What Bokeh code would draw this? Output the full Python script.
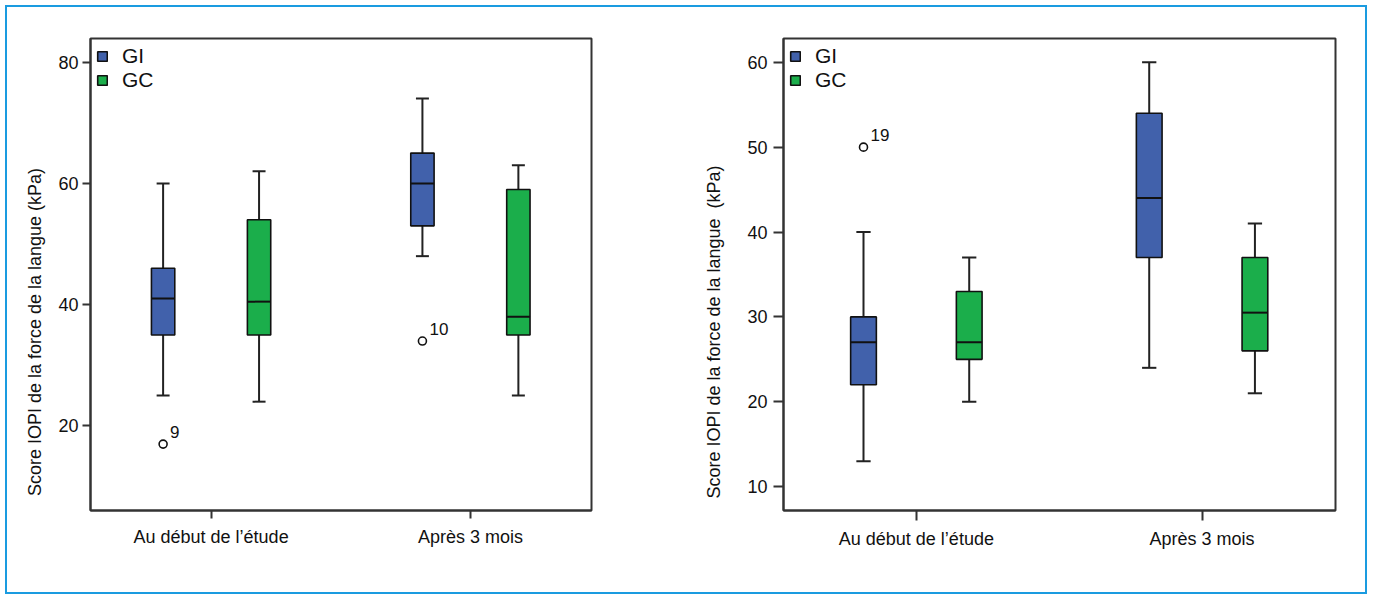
from bokeh.plotting import figure
from bokeh.layouts import row
from bokeh.models import ColumnDataSource, FixedTicker, Legend, LegendItem, Range1d
from bokeh.embed import file_html
from bokeh.resources import INLINE

# ---------------- data ----------------
categories = ["Au début de l’étude", "Après 3 mois"]
groups = ["GI", "GC"]
group_colors = ["#4161ab", "#1bae4b"]

# Left panel (box-plot statistics, one value per category)
left_gi_lower = [25, 48]
left_gi_q1 = [35, 53]
left_gi_median = [41, 60]
left_gi_q3 = [46, 65]
left_gi_upper = [60, 74]

left_gc_lower = [24, 25]
left_gc_q1 = [35, 35]
left_gc_median = [40.5, 38]
left_gc_q3 = [54, 59]
left_gc_upper = [62, 63]

left_out_cat = [0, 1]
left_out_group = ["GI", "GI"]
left_out_value = [17, 34]
left_out_label = ["9", "10"]

left_y_ticks = [20, 40, 60, 80]

# Right panel
right_gi_lower = [13, 24]
right_gi_q1 = [22, 37]
right_gi_median = [27, 44]
right_gi_q3 = [30, 54]
right_gi_upper = [40, 60]

right_gc_lower = [20, 21]
right_gc_q1 = [25, 26]
right_gc_median = [27, 30.5]
right_gc_q3 = [33, 37]
right_gc_upper = [37, 41]

right_out_cat = [0]
right_out_group = ["GI"]
right_out_value = [50]
right_out_label = ["19"]

right_y_ticks = [10, 20, 30, 40, 50, 60]

y_label_left = "Score IOPI de la force de la langue (kPa)"
y_label_right = "Score IOPI de la force de la langue\u00a0\u00a0(kPa)"

# ---------------- style ----------------
FONT = "Liberation Sans"
OFFSETS = {"GI": -0.185, "GC": 0.185}
BOX_W = 0.09
CAP_W = 0.05
LINE = "#222222"
LABEL_PAD = "\u00a0" * 23   # shifts the axis title downward, as in the original


def make_panel(stats, out_cat, out_group, out_value, out_label, y_start, y_end,
               y_ticks, y_label, fw, fh, mbl, mbr, mbt, mbb,
               tick_out, tick_standoff, label_standoff):
    p = figure(frame_width=fw, frame_height=fh,
               min_border_left=mbl, min_border_right=mbr,
               min_border_top=mbt, min_border_bottom=mbb,
               x_range=Range1d(0.535, 2.467), y_range=Range1d(y_start, y_end),
               output_backend="svg", toolbar_location=None, tools="",
               background_fill_color="white", border_fill_color="white")
    p.grid.visible = False
    p.outline_line_color = "#333333"
    p.outline_line_width = 2
    p.outline_line_alpha = 1

    items = []
    for g, col in zip(groups, group_colors):
        s = stats[g]
        xs = [i + 1 + OFFSETS[g] for i in range(len(categories))]
        src = ColumnDataSource(dict(
            x=xs,
            cx0=[v - CAP_W / 2 for v in xs], cx1=[v + CAP_W / 2 for v in xs],
            bx0=[v - BOX_W / 2 for v in xs], bx1=[v + BOX_W / 2 for v in xs],
            lower=s[0], q1=s[1], median=s[2], q3=s[3], upper=s[4]))
        p.segment(x0="x", y0="q3", x1="x", y1="upper", source=src,
                  line_color=LINE, line_width=2)
        p.segment(x0="x", y0="lower", x1="x", y1="q1", source=src,
                  line_color=LINE, line_width=2)
        p.segment(x0="cx0", y0="upper", x1="cx1", y1="upper", source=src,
                  line_color=LINE, line_width=2)
        p.segment(x0="cx0", y0="lower", x1="cx1", y1="lower", source=src,
                  line_color=LINE, line_width=2)
        r = p.vbar(x="x", width=BOX_W, bottom="q1", top="q3", source=src,
                   fill_color=col, line_color="#111111", line_width=1.6)
        p.segment(x0="bx0", y0="median", x1="bx1", y1="median", source=src,
                  line_color="#111111", line_width=2)
        items.append(LegendItem(label=g, renderers=[r]))

    ox = [c + 1 + OFFSETS[g] for c, g in zip(out_cat, out_group)]
    osrc = ColumnDataSource(dict(x=ox, y=out_value, t=out_label))
    p.scatter(x="x", y="y", source=osrc, marker="circle", size=8,
              fill_color="white", line_color="#111111", line_width=1.6)
    p.text(x="x", y="y", text="t", source=osrc, x_offset=7, y_offset=-12,
           text_font_size="17px", text_color="#111111",
           text_baseline="alphabetic", text_align="left",
           text_font={"value": FONT})

    legend = Legend(items=items, location="top_left",
                    glyph_width=12, glyph_height=12,
                    label_text_font_size="21px", label_text_font=FONT,
                    label_text_color="#111111", label_standoff=14,
                    spacing=0, margin=6, padding=6,
                    border_line_color=None, background_fill_alpha=0)
    p.add_layout(legend)

    # axes
    p.xaxis.ticker = FixedTicker(ticks=[1, 2])
    p.xaxis.major_label_overrides = {1: categories[0], 2: categories[1]}
    p.yaxis.ticker = FixedTicker(ticks=y_ticks)
    p.yaxis.axis_label = y_label
    for ax in (p.xaxis[0], p.yaxis[0]):
        ax.axis_line_color = "#333333"
        ax.axis_line_width = 2
        ax.major_tick_line_color = "#333333"
        ax.major_tick_line_width = 2
        ax.major_tick_in = 0
        ax.major_tick_out = tick_out
        ax.minor_tick_line_color = None
        ax.major_label_text_font = FONT
        ax.major_label_text_color = "#111111"
    p.xaxis.major_label_text_font_size = "18px"
    p.xaxis.major_label_standoff = 8
    p.yaxis.major_label_text_font_size = "18px"
    p.yaxis.major_label_standoff = tick_standoff
    p.yaxis.axis_label_text_font = FONT
    p.yaxis.axis_label_text_font_size = "18px"
    p.yaxis.axis_label_text_font_style = "normal"
    p.yaxis.axis_label_text_color = "#111111"
    p.yaxis.axis_label_standoff = label_standoff
    return p


left_stats = {
    "GI": [left_gi_lower, left_gi_q1, left_gi_median, left_gi_q3, left_gi_upper],
    "GC": [left_gc_lower, left_gc_q1, left_gc_median, left_gc_q3, left_gc_upper],
}
right_stats = {
    "GI": [right_gi_lower, right_gi_q1, right_gi_median, right_gi_q3, right_gi_upper],
    "GC": [right_gc_lower, right_gc_q1, right_gc_median, right_gc_q3, right_gc_upper],
}

p1 = make_panel(left_stats, left_out_cat, left_out_group, left_out_value, left_out_label,
                6.05, 83.9, left_y_ticks, y_label_left + LABEL_PAD,
                501, 472, 83, 89, 31, 82, 8, 4, 10)
p2 = make_panel(right_stats, right_out_cat, right_out_group, right_out_value, right_out_label,
                7.19, 62.8, right_y_ticks, y_label_right + LABEL_PAD,
                552, 472, 103, 30, 29, 84, 10, 6, 20)

layout = row(p1, p2, styles={"border": "2px solid #1a9be0", "margin": "5px 0 0 5px"})

open("out.html", "w").write(file_html(layout, INLINE))
